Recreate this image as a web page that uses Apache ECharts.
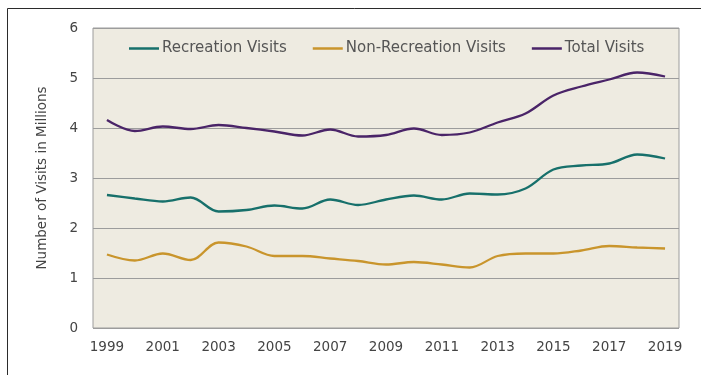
<!DOCTYPE html>
<html>
<head>
<meta charset="utf-8">
<style>
  html, body { margin: 0; padding: 0; background: #ffffff; }
  #chart { width: 701px; height: 375px; }
</style>
<script src="https://cdn.jsdelivr.net/npm/echarts@6/dist/echarts.min.js"></script>
</head>
<body>
<div id="chart"></div>
<script>
// Annual visits (millions), 1999–2019
const years = ['1999','2000','2001','2002','2003','2004','2005','2006','2007','2008','2009',
               '2010','2011','2012','2013','2014','2015','2016','2017','2018','2019'];
const recreationVisits = [2.66, 2.59, 2.53, 2.61, 2.33, 2.36, 2.45, 2.39, 2.57, 2.46, 2.57,
                          2.65, 2.57, 2.69, 2.67, 2.79, 3.17, 3.25, 3.29, 3.47, 3.39];
const nonRecreationVisits = [1.47, 1.35, 1.49, 1.36, 1.71, 1.63, 1.44, 1.44, 1.39, 1.34, 1.27,
                             1.32, 1.27, 1.21, 1.44, 1.49, 1.49, 1.55, 1.64, 1.61, 1.59];
const totalVisits = [4.16, 3.94, 4.03, 3.98, 4.06, 4.00, 3.93, 3.85, 3.97, 3.83, 3.86,
                     3.99, 3.86, 3.91, 4.11, 4.29, 4.65, 4.83, 4.97, 5.11, 5.03];
const seriesNames = ['Recreation Visits', 'Non-Recreation Visits', 'Total Visits'];
const seriesColors = ['#17706b', '#c9952c', '#4a2468'];

const chart = echarts.init(document.getElementById('chart'), null, { renderer: 'canvas' });
const fontFamily = '"DejaVu Sans", "Open Sans", sans-serif';

function lineSeries(name, data, color) {
  return {
    name: name,
    type: 'line',
    data: data,
    smooth: 0.35,
    symbol: 'none',
    lineStyle: { color: color, width: 2.3 },
    itemStyle: { color: color },
    emphasis: { disabled: true }
  };
}

chart.setOption({
  animation: false,
  textStyle: { fontFamily: fontFamily },
  grid: {
    left: 93, right: 22, top: 28, bottom: 47,
    show: true,
    backgroundColor: '#eeebe1',
    borderColor: '#9c9c9c',
    borderWidth: 1
  },
  legend: {
    top: 36,
    left: 124,
    icon: 'rect',
    itemWidth: 30,
    itemHeight: 2.5,
    itemGap: 26,
    textStyle: { color: '#555555', fontSize: 15, fontFamily: fontFamily, padding: [0, 0, 0, -2] },
    data: seriesNames
  },
  xAxis: {
    type: 'category',
    data: years,
    boundaryGap: true,
    axisLine: { show: false },
    axisTick: { show: false },
    axisLabel: { interval: 1, color: '#444444', fontSize: 13.5, margin: 12, fontFamily: fontFamily }
  },
  yAxis: {
    type: 'value',
    min: 0, max: 6, interval: 1,
    name: 'Number of Visits in Millions',
    nameLocation: 'middle',
    nameRotate: 90,
    nameGap: 44,
    nameTextStyle: { color: '#444444', fontSize: 13.5, fontFamily: fontFamily },
    axisLine: { show: false },
    axisTick: { show: false },
    axisLabel: { color: '#444444', fontSize: 13.5, margin: 15, fontFamily: fontFamily },
    splitLine: { lineStyle: { color: '#9c9c9c', width: 1 } }
  },
  series: [
    lineSeries(seriesNames[0], recreationVisits, seriesColors[0]),
    lineSeries(seriesNames[1], nonRecreationVisits, seriesColors[1]),
    lineSeries(seriesNames[2], totalVisits, seriesColors[2])
  ],
  graphic: [{
    type: 'polyline',
    silent: true,
    shape: { points: [[7.5, 375], [7.5, 8.5], [701, 8.5]] },
    style: { stroke: '#2b2b2b', lineWidth: 1, fill: null }
  }]
});
</script>
</body>
</html>
